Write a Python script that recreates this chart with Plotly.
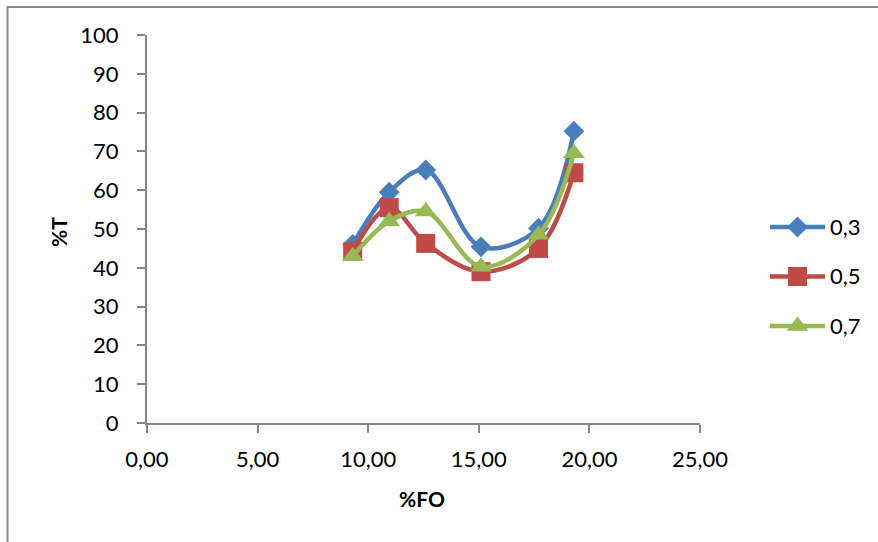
import plotly.graph_objects as go

# Measured transmittance (%T) against filler content (%FO) for three ratios
fo = [9.3, 10.95, 12.6, 15.1, 17.7, 19.3]
t_03 = [46.0, 59.5, 65.2, 45.4, 50.2, 75.2]
t_05 = [44.2, 55.5, 46.3, 39.0, 45.0, 64.5]
t_07 = [43.0, 52.0, 54.5, 40.3, 48.5, 69.5]

series_names = ["0,3", "0,5", "0,7"]
x_ticks = [0, 5, 10, 15, 20, 25]
x_tick_text = ["0,00", "5,00", "10,00", "15,00", "20,00", "25,00"]
y_ticks = list(range(0, 101, 10))

W, H = 878, 542
FONT = "Lato, 'Open Sans', sans-serif"
AXIS_GREY = "#868686"

styles = [
    dict(color="#4a7ebb", symbol="diamond", size=16),
    dict(color="#be4b48", symbol="square", size=19),
    dict(color="#98b954", symbol="triangle-up", size=19),
]

fig = go.Figure()
for name, ys, st in zip(series_names, [t_03, t_05, t_07], styles):
    fig.add_trace(go.Scatter(
        x=fo, y=ys, name=name, mode="lines+markers", showlegend=False,
        line=dict(color=st["color"], width=4.5, shape="spline", smoothing=1.0),
        marker=dict(color=st["color"], symbol=st["symbol"], size=st["size"],
                    opacity=1, line=dict(width=0)),
        xaxis="x", yaxis="y",
    ))

# Legend: a long line sample with the marker in the middle, one row per series,
# drawn on a small category axis whose right-hand tick labels carry the names.
for name, st in zip(series_names, styles):
    fig.add_trace(go.Scatter(
        x=[0, 1], y=[name] * 2, mode="lines", showlegend=False,
        line=dict(color=st["color"], width=4.5),
        xaxis="x2", yaxis="y2", hoverinfo="skip",
    ))
    fig.add_trace(go.Scatter(
        x=[0.5], y=[name], mode="markers", showlegend=False,
        marker=dict(color=st["color"], symbol=st["symbol"], size=st["size"],
                    opacity=1, line=dict(width=0)),
        xaxis="x2", yaxis="y2", hoverinfo="skip",
    ))

# pixel -> paper helpers (margins are zero, so paper spans the whole page)
px = lambda v: v / W
py = lambda v: 1 - v / H

row_gap = 49.5
leg_top = 227 - row_gap / 2
leg_bottom = leg_top + row_gap * len(series_names)

fig.update_layout(
    width=W, height=H,
    margin=dict(l=0, r=0, t=0, b=0, autoexpand=False),
    paper_bgcolor="white", plot_bgcolor="white",
    font=dict(family=FONT, size=22, color="#000000"),
    showlegend=False,
    xaxis=dict(
        domain=[px(147), px(700)], range=[0, 25],
        tickmode="array", tickvals=x_ticks, ticktext=x_tick_text,
        ticks="outside", ticklen=8, tickwidth=2, tickcolor=AXIS_GREY,
        showline=True, linecolor=AXIS_GREY, linewidth=2,
        showgrid=False, zeroline=False,
        ticklabelstandoff=8,
        tickfont=dict(family=FONT, size=22),
        anchor="y", automargin=False,
    ),
    yaxis=dict(
        domain=[py(423), py(35)], range=[0, 100],
        tickmode="array", tickvals=y_ticks,
        ticks="outside", ticklen=8, tickwidth=2, tickcolor=AXIS_GREY,
        showline=True, linecolor=AXIS_GREY, linewidth=2,
        showgrid=False, zeroline=False,
        ticklabelstandoff=14,
        tickfont=dict(family=FONT, size=22),
        anchor="x", automargin=False,
    ),
    xaxis2=dict(
        domain=[px(770), px(825)], range=[0, 1],
        visible=False, fixedrange=True, anchor="y2",
    ),
    yaxis2=dict(
        domain=[py(leg_bottom), py(leg_top)],
        type="category", categoryorder="array", categoryarray=series_names,
        range=[len(series_names) - 0.5, -0.5],
        side="right", anchor="x2",
        showline=False, showgrid=False, zeroline=False, ticks="",
        ticklabelstandoff=4, tickfont=dict(family=FONT, size=22),
        fixedrange=True, automargin=False,
    ),
    annotations=[
        dict(text="<b>%FO</b>", x=px(422), y=py(498), xref="paper", yref="paper",
             xanchor="center", yanchor="middle",
             showarrow=False, font=dict(family=FONT, size=21)),
        dict(text="<b>%T</b>", x=px(58), y=py(232), xref="paper", yref="paper",
             xanchor="center", yanchor="middle",
             showarrow=False, textangle=-90, font=dict(family=FONT, size=21)),
    ],
    shapes=[
        # outer chart frame (open to the right and bottom of the page)
        dict(type="rect", xref="paper", yref="paper",
             x0=px(7.5), y0=py(7), x1=px(W + 10), y1=py(H + 10),
             line=dict(color="#8c8c8c", width=2), fillcolor="rgba(0,0,0,0)",
             layer="below"),
    ],
)

fig.write_html("out.html")
